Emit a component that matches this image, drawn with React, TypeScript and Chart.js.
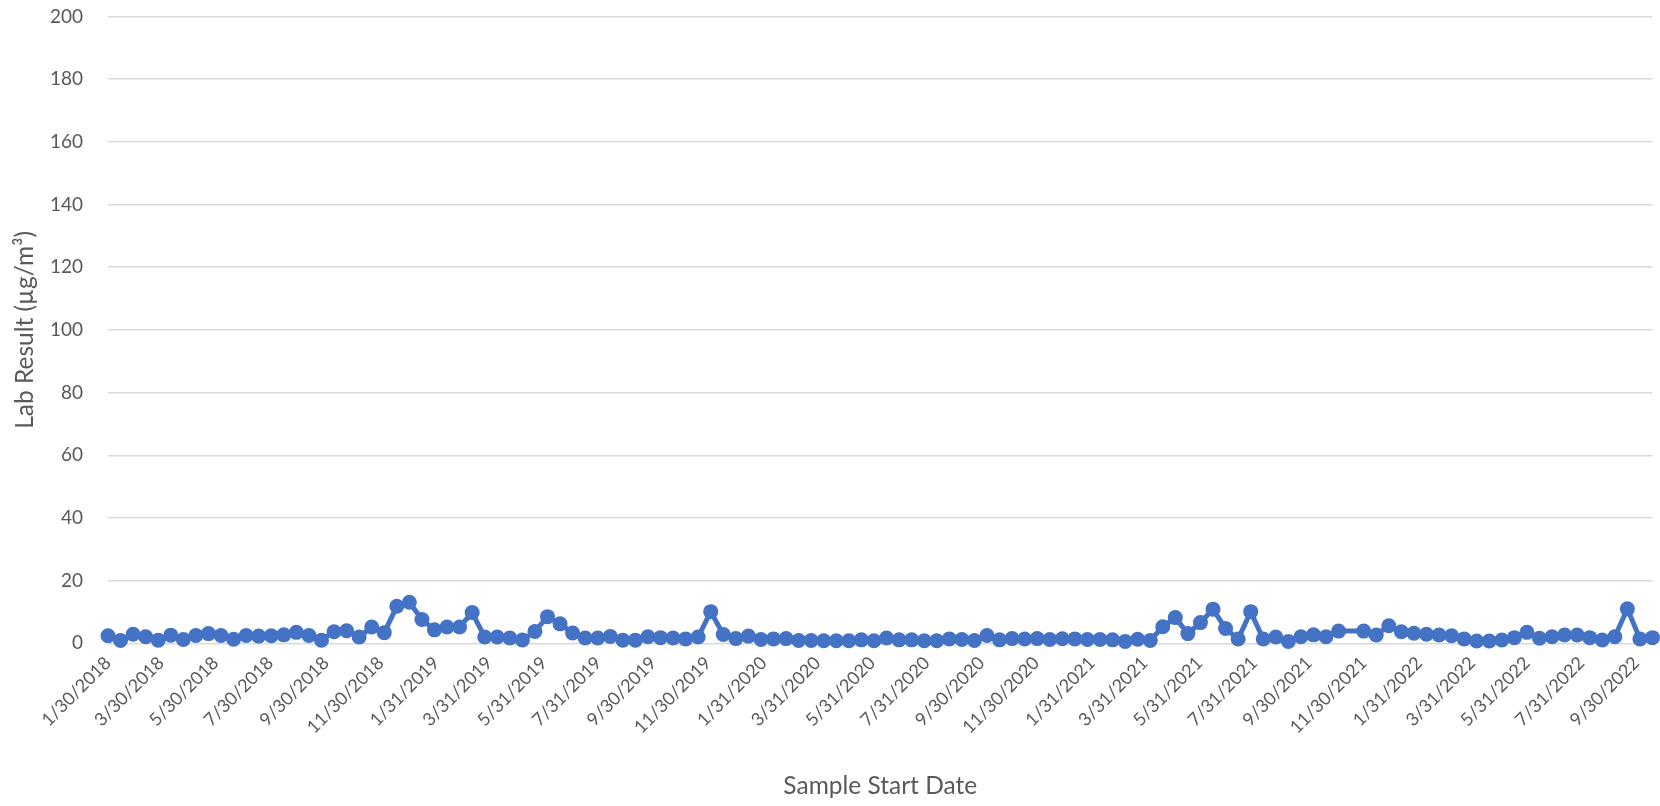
import React, { useEffect, useRef } from "react";
import { Chart, registerables } from "chart.js";

Chart.register(...registerables);

const sampleDates: string[] = [
  "2018-01-30","2018-02-13","2018-02-27","2018-03-13","2018-03-27","2018-04-10","2018-04-24","2018-05-08","2018-05-22","2018-06-05",
  "2018-06-19","2018-07-03","2018-07-17","2018-07-31","2018-08-14","2018-08-28","2018-09-11","2018-09-25","2018-10-09","2018-10-23",
  "2018-11-06","2018-11-20","2018-12-04","2018-12-18","2019-01-01","2019-01-15","2019-01-29","2019-02-12","2019-02-26","2019-03-12",
  "2019-03-26","2019-04-09","2019-04-23","2019-05-07","2019-05-21","2019-06-04","2019-06-18","2019-07-02","2019-07-16","2019-07-30",
  "2019-08-13","2019-08-27","2019-09-10","2019-09-24","2019-10-08","2019-10-22","2019-11-05","2019-11-19","2019-12-03","2019-12-17",
  "2019-12-31","2020-01-14","2020-01-28","2020-02-11","2020-02-25","2020-03-10","2020-03-24","2020-04-07","2020-04-21","2020-05-05",
  "2020-05-19","2020-06-02","2020-06-16","2020-06-30","2020-07-14","2020-07-28","2020-08-11","2020-08-25","2020-09-08","2020-09-22",
  "2020-10-06","2020-10-20","2020-11-03","2020-11-17","2020-12-01","2020-12-15","2020-12-29","2021-01-12","2021-01-26","2021-02-09",
  "2021-02-23","2021-03-09","2021-03-23","2021-04-06","2021-04-20","2021-05-04","2021-05-18","2021-06-01","2021-06-15","2021-06-29",
  "2021-07-13","2021-07-27","2021-08-10","2021-08-24","2021-09-07","2021-09-21","2021-10-05","2021-10-19","2021-11-02",
  "2021-11-30","2021-12-14","2021-12-28","2022-01-11","2022-01-25","2022-02-08","2022-02-22","2022-03-08","2022-03-22","2022-04-05",
  "2022-04-19","2022-05-03","2022-05-17","2022-05-31","2022-06-14","2022-06-28","2022-07-12","2022-07-26","2022-08-09","2022-08-23",
  "2022-09-06","2022-09-20","2022-10-04","2022-10-18",
];

const labResults: number[] = [
  2.4, 0.9, 2.9, 2.1, 1.0, 2.6, 1.2, 2.5, 3.1, 2.5,
  1.3, 2.5, 2.3, 2.4, 2.7, 3.5, 2.5, 1.0, 3.7, 4.0,
  2.0, 5.2, 3.4, 11.8, 13.1, 7.6, 4.3, 5.2, 5.2, 9.8,
  2.0, 2.0, 1.7, 1.05, 3.8, 8.5, 6.2, 3.3, 1.7, 1.7,
  2.2, 1.0, 1.0, 2.1, 1.8, 1.7, 1.4, 2.0, 10.1, 2.8,
  1.5, 2.3, 1.2, 1.4, 1.5, 0.9, 0.9, 0.8, 0.8, 0.8,
  1.1, 0.8, 1.7, 1.1, 1.1, 0.8, 0.8, 1.4, 1.2, 0.9,
  2.5, 1.1, 1.5, 1.35, 1.5, 1.2, 1.45, 1.4, 1.2, 1.2,
  1.1, 0.6, 1.3, 0.9, 5.3, 8.2, 3.1, 6.6, 10.9, 4.7,
  1.35, 10.1, 1.35, 2.0, 0.6, 2.1, 2.7, 2.1, 3.9,
  3.9, 2.65, 5.6, 3.7, 3.2, 2.9, 2.65, 2.4, 1.4, 0.75,
  0.75, 1.05, 1.8, 3.5, 1.6, 2.1, 2.65, 2.65, 1.8, 1.05,
  2.1, 11.0, 1.4, 1.8,
];

const tickDates: string[] = [
  "1/30/2018","3/30/2018","5/30/2018","7/30/2018","9/30/2018","11/30/2018",
  "1/31/2019","3/31/2019","5/31/2019","7/31/2019","9/30/2019","11/30/2019",
  "1/31/2020","3/31/2020","5/31/2020","7/31/2020","9/30/2020","11/30/2020",
  "1/31/2021","3/31/2021","5/31/2021","7/31/2021","9/30/2021","11/30/2021",
  "1/31/2022","3/31/2022","5/31/2022","7/31/2022","9/30/2022",
];

const axisStart = "2018-01-30";
const axisEnd = "2022-10-18";
const yMin = 0;
const yMax = 200;
const yStep = 20;
const xTitle = "Sample Start Date";
const yTitle = "Lab Result (µg/m³)";

const DAY = 86400000;
const isoToUtc = (s: string) => {
  const [y, m, d] = s.split("-").map(Number);
  return Date.UTC(y, m - 1, d);
};
const mdyToUtc = (s: string) => {
  const [m, d, y] = s.split("/").map(Number);
  return Date.UTC(y, m - 1, d);
};
const base = isoToUtc(axisStart);
const toDay = (t: number) => Math.round((t - base) / DAY);

const TEXT = "#595959";
const BLUE = "#4472C4";
const GRID = "#D9D9D9";
const FONT = "Lato";

export default function App() {
  const ref = useRef<HTMLCanvasElement | null>(null);

  useEffect(() => {
    if (!ref.current) return;
    const points = sampleDates.map((d, i) => ({ x: toDay(isoToUtc(d)), y: labResults[i] }));
    const tickValues = tickDates.map((s) => toDay(mdyToUtc(s)));
    const tickText = new Map<number, string>();
    tickDates.forEach((s, i) => tickText.set(tickValues[i], s));

    const chart = new Chart(ref.current, {
      type: "line",
      data: {
        datasets: [
          {
            data: points,
            borderColor: BLUE,
            backgroundColor: BLUE,
            borderWidth: 5,
            pointRadius: 7.5,
            pointBorderWidth: 0,
            pointBackgroundColor: BLUE,
            tension: 0,
            clip: false as any,
          },
        ],
      },
      options: {
        animation: false,
        responsive: false,
        maintainAspectRatio: false,
        layout: { padding: { top: 16.5, right: 7, left: 0, bottom: 0 } },
        plugins: { legend: { display: false }, tooltip: { enabled: false } },
        scales: {
          x: {
            type: "linear",
            min: 0,
            max: toDay(isoToUtc(axisEnd)),
            grid: { display: false, drawTicks: false },
            border: { display: false },
            afterBuildTicks: (scale: any) => {
              scale.ticks = tickValues.map((v) => ({ value: v }));
            },
            afterFit: (scale: any) => {
              scale.height = 806 - 643.3;
              scale.paddingLeft = 0;
              scale.paddingRight = 0;
            },
            ticks: {
              autoSkip: false,
              minRotation: 45,
              maxRotation: 45,
              padding: 9,
              color: TEXT,
              font: { family: FONT, size: 18 },
              callback: (v: any) => tickText.get(Number(v)) ?? "",
            },
            title: {
              display: true,
              text: xTitle,
              color: TEXT,
              font: { family: FONT, size: 24.5 },
              padding: { top: 0, bottom: 5 },
            },
          },
          y: {
            min: yMin,
            max: yMax,
            grid: { color: GRID, lineWidth: 1.5, drawTicks: false },
            border: { display: false },
            afterFit: (scale: any) => {
              scale.width = 108;
              scale.paddingTop = 0;
              scale.paddingBottom = 0;
            },
            ticks: {
              stepSize: yStep,
              padding: 25,
              color: TEXT,
              font: { family: FONT, size: 19 },
            },
            title: {
              display: true,
              text: yTitle,
              color: TEXT,
              font: { family: FONT, size: 24.5 },
              padding: { top: 10, bottom: 0 },
            },
          },
        },
      },
    });
    return () => chart.destroy();
  }, []);

  return (
    <div style={{ position: "fixed", left: 0, top: 0, width: 1660, height: 806, background: "#fff" }}>
      <canvas ref={ref} width={1660} height={806} style={{ width: 1660, height: 806, display: "block" }} />
    </div>
  );
}
